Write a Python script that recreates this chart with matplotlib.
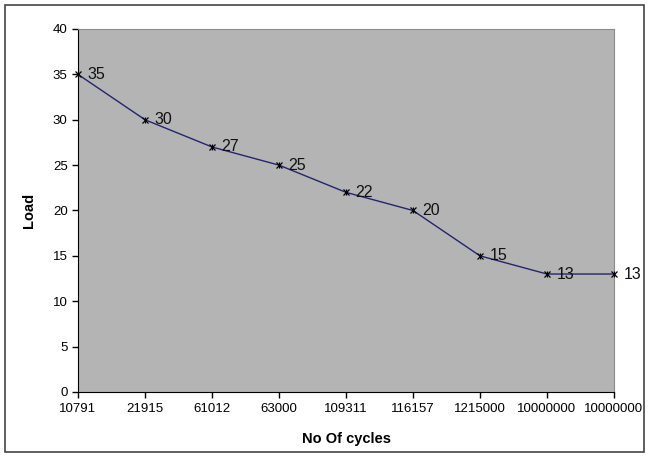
import matplotlib.pyplot as plt
from matplotlib.patches import Rectangle

plt.rcParams['font.family'] = ['Liberation Sans', 'DejaVu Sans']

cycles = ["10791", "21915", "61012", "63000", "109311", "116157", "1215000", "10000000", "10000000"]
load = [35, 30, 27, 25, 22, 20, 15, 13, 13]

fig = plt.figure(figsize=(6.49, 4.57), dpi=100)
ax = fig.add_axes([78 / 649, 1 - 392 / 457, (614 - 78) / 649, (392 - 29) / 457])
ax.set_facecolor("#b4b4b4")

x = list(range(len(cycles)))
ax.plot(x, load, color="#24246e", linewidth=1.0, zorder=3, clip_on=False)
# excel style asterisk: an x with a vertical bar through it
ax.plot(x, load, linestyle="none", marker="x", markersize=5,
        markeredgecolor="black", markeredgewidth=0.9, zorder=4, clip_on=False)
ax.plot(x, load, linestyle="none", marker="|", markersize=5,
        markeredgecolor="black", markeredgewidth=0.9, zorder=4, clip_on=False)

for xi, yi in zip(x, load):
    ax.annotate(str(yi), (xi, yi), xytext=(7, 0), textcoords="offset points",
                ha="left", va="center", fontsize=11.5, color="#111111",
                annotation_clip=False, zorder=5)

ax.set_xlim(0, len(cycles) - 1)
ax.set_ylim(0, 40)
ax.set_xticks(x)
ax.set_xticklabels(cycles, fontsize=9.5)
ax.set_yticks(range(0, 41, 5))
ax.tick_params(axis="y", labelsize=9.5, direction="out", length=4, width=1)
ax.tick_params(axis="x", direction="out", length=4, width=1, pad=4)

ax.spines["left"].set_color("black")
ax.spines["bottom"].set_color("black")
ax.spines["top"].set_color("#8a8a8a")
ax.spines["right"].set_color("#8a8a8a")

ax.set_xlabel("No Of cycles", fontsize=10.5, fontweight="bold", labelpad=12)
ax.set_ylabel("Load", fontsize=10.5, fontweight="bold", labelpad=12)

fig.patches.append(Rectangle((5 / 649, 5 / 457), 639 / 649, 447 / 457,
                             transform=fig.transFigure, fill=False,
                             edgecolor="#444444", linewidth=1.2))

fig.savefig("out.png", dpi=100)
